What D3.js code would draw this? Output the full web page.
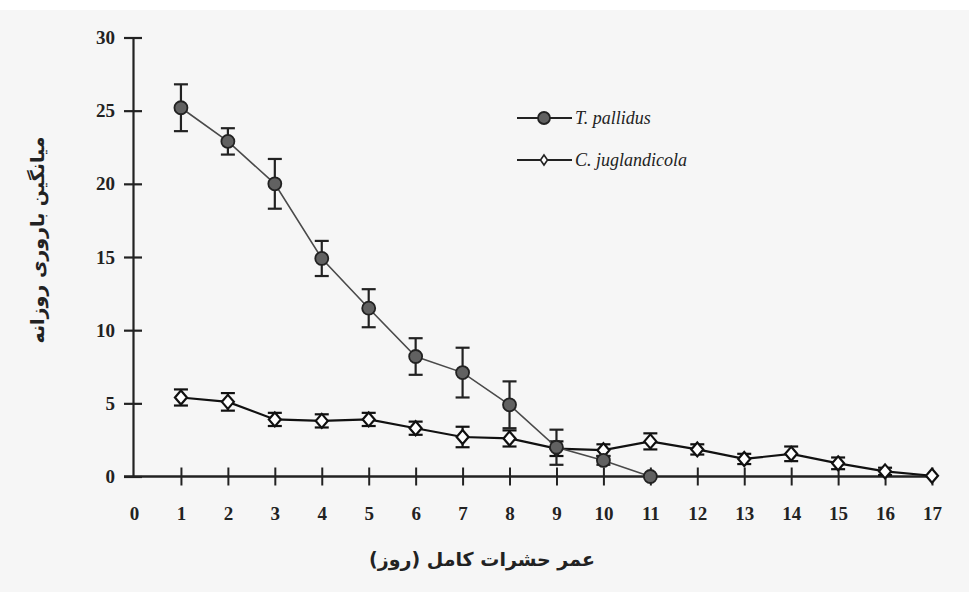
<!DOCTYPE html>
<html>
<head>
<meta charset="utf-8">
<script src="https://cdn.jsdelivr.net/npm/d3@7/dist/d3.min.js"></script>
<style>
  html, body { margin: 0; padding: 0; background: #fff; }
  svg { display: block; }
</style>
</head>
<body>
<svg id="chart" width="969" height="592"></svg>
<script>
// ---- data ----
const days = [1,2,3,4,5,6,7,8,9,10,11,12,13,14,15,16,17];
const pallidusDays = [1,2,3,4,5,6,7,8,9,10,11];
const pallidusMean = [25.2, 22.9, 20.0, 14.9, 11.5, 8.2, 7.1, 4.9, 2.0, 1.1, 0];
const pallidusErr  = [1.6, 0.9, 1.7, 1.2, 1.3, 1.25, 1.7, 1.6, 1.2, 0.3, 0];
const juglMean = [5.4, 5.1, 3.9, 3.8, 3.9, 3.3, 2.7, 2.6, 1.9, 1.8, 2.4, 1.85, 1.2, 1.55, 0.9, 0.35, 0.05];
const juglErr  = [0.55, 0.6, 0.45, 0.45, 0.45, 0.45, 0.7, 0.55, 0.5, 0.4, 0.55, 0.35, 0.35, 0.5, 0.4, 0.25, 0];
const xTicks = [0,1,2,3,4,5,6,7,8,9,10,11,12,13,14,15,16,17];
const yTicks = [0,5,10,15,20,25,30];
const seriesNames = ["T. pallidus", "C. juglandicola"];
const xTitle = "عمر حشرات کامل (روز)";
const yTitle = "میانگین باروری روزانه";

// ---- setup ----
const svg = d3.select("#chart");
svg.append("rect").attr("x",0).attr("y",0).attr("width",969).attr("height",592).attr("fill","#ffffff");
svg.append("rect").attr("x",0).attr("y",10).attr("width",969).attr("height",582).attr("fill","#f6f6f6");

const x = d3.scaleLinear().domain([0,17]).range([134, 932]);
const y = d3.scaleLinear().domain([0,30]).range([476.5, 37.5]);

const serif = "'Liberation Serif', 'Times New Roman', serif";
const arabicFont = "'DejaVu Sans', 'Noto Sans', sans-serif";

// ---- axes ----
const yAxis = d3.axisLeft(y).tickValues(yTicks).tickSize(0).tickPadding(18).tickFormat(d3.format("d"));
const gy = svg.append("g").attr("transform", `translate(${x(0)-1},0)`).call(yAxis);
gy.select(".domain").attr("stroke","#222").attr("stroke-width",2.2);
gy.selectAll(".tick text").attr("font-family", serif).attr("font-weight","bold").attr("font-size",19).attr("fill","#222");
gy.selectAll(".tick").append("line").attr("x1",-9).attr("x2",9).attr("stroke","#222").attr("stroke-width",2.2);

const xAxis = d3.axisBottom(x).tickValues(xTicks).tickSize(0).tickPadding(30).tickFormat(d3.format("d"));
const gx = svg.append("g").attr("transform", `translate(0,${y(0)})`).call(xAxis);
gx.select(".domain").remove();
gx.append("line").attr("x1", x(0)-10).attr("x2", x(17)+2).attr("stroke","#222").attr("stroke-width",2.4);
gx.selectAll(".tick text").attr("font-family", serif).attr("font-weight","bold").attr("font-size",19).attr("fill","#222");
gx.selectAll(".tick").filter(d => d > 0).append("line").attr("y1",-9).attr("y2",9).attr("stroke","#222").attr("stroke-width",2);

// ---- titles ----
svg.append("text").attr("x", 482).attr("y", 566).attr("text-anchor","middle")
  .attr("font-family", arabicFont).attr("font-weight","bold").attr("font-size",19).attr("fill","#222")
  .attr("direction","rtl").text(xTitle);
svg.append("text").attr("transform","translate(44,240) rotate(-90)").attr("text-anchor","middle")
  .attr("font-family", arabicFont).attr("font-weight","bold").attr("font-size",19).attr("fill","#222")
  .attr("direction","rtl").text(yTitle);

// ---- series ----
const pData = pallidusDays.map((d,i) => ({x:d, m:pallidusMean[i], e:pallidusErr[i]}));
const jData = days.map((d,i) => ({x:d, m:juglMean[i], e:juglErr[i]}));
const line = d3.line().x(d => x(d.x)).y(d => y(d.m));

function errorBars(data, cap, color, width) {
  const g = svg.append("g");
  data.filter(d => d.e > 0).forEach(d => {
    g.append("line").attr("x1",x(d.x)).attr("x2",x(d.x)).attr("y1",y(d.m+d.e)).attr("y2",y(d.m-d.e)).attr("stroke",color).attr("stroke-width",width);
    g.append("line").attr("x1",x(d.x)-cap).attr("x2",x(d.x)+cap).attr("y1",y(d.m+d.e)).attr("y2",y(d.m+d.e)).attr("stroke",color).attr("stroke-width",width);
    g.append("line").attr("x1",x(d.x)-cap).attr("x2",x(d.x)+cap).attr("y1",y(d.m-d.e)).attr("y2",y(d.m-d.e)).attr("stroke",color).attr("stroke-width",width);
  });
}

const diamond = "M0,-7 L6,0 L0,7 L-6,0 Z";

// C. juglandicola
svg.append("path").datum(jData).attr("d", line).attr("fill","none").attr("stroke","#111").attr("stroke-width",2.2);
errorBars(jData, 7, "#111", 2.2);
svg.append("g").selectAll("path").data(jData).join("path")
  .attr("d", diamond).attr("transform", d => `translate(${x(d.x)},${y(d.m)})`)
  .attr("fill","#fff").attr("stroke","#111").attr("stroke-width",2.2);

// T. pallidus
svg.append("path").datum(pData).attr("d", line).attr("fill","none").attr("stroke","#4a4a4a").attr("stroke-width",1.6);
errorBars(pData, 7, "#222", 2.2);
svg.append("g").selectAll("circle").data(pData).join("circle")
  .attr("cx", d => x(d.x)).attr("cy", d => y(d.m)).attr("r", 6.5)
  .attr("fill","#616161").attr("stroke","#222").attr("stroke-width",1.8);

// ---- legend ----
const legend = svg.append("g").attr("transform","translate(517,118)");
seriesNames.forEach((name, i) => {
  const row = legend.append("g").attr("transform", `translate(0,${i*42})`);
  row.append("line").attr("x1",0).attr("x2",55).attr("stroke","#222").attr("stroke-width",1.8);
  if (i === 0) {
    row.append("circle").attr("cx",27).attr("r",6).attr("fill","#616161").attr("stroke","#222").attr("stroke-width",1.8);
  } else {
    row.append("path").attr("d","M0,-5 L3.5,0 L0,5 L-3.5,0 Z").attr("transform","translate(27,0)").attr("fill","#fff").attr("stroke","#222").attr("stroke-width",1.6);
  }
  row.append("text").attr("x",58).attr("y",6).attr("font-family", serif).attr("font-style","italic")
    .attr("font-size",18).attr("fill","#222").text(name);
});
</script>
</body>
</html>
